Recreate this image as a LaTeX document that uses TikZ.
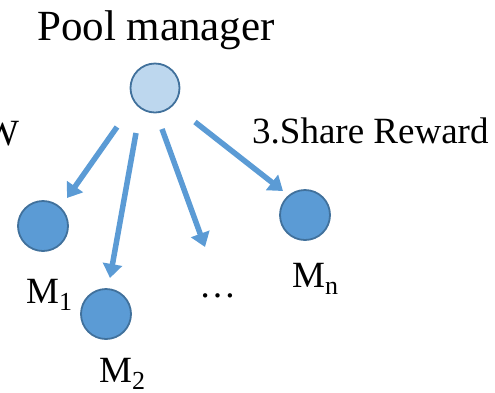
\documentclass[tikz,border=0pt]{standalone}
\usepackage{fontspec}
\setmainfont{Liberation Serif}
\usetikzlibrary{arrows.meta}

\definecolor{poolfill}{HTML}{BDD7EE}
\definecolor{minerfill}{HTML}{5B9BD5}
\definecolor{ringcol}{HTML}{41719C}
\definecolor{flowcol}{HTML}{5B9BD5}

% miner index, set low and fairly large
\newcommand{\minerix}[1]{\raisebox{-7pt}{\fontsize{26}{30}\selectfont #1}}

\tikzset{
  disc/.style={draw=ringcol, line width=1.8pt, circle, inner sep=0pt},
  pool/.style={disc, fill=poolfill},
  miner/.style={disc, fill=minerfill},
  flow/.style={draw=flowcol, line width=5.5pt,
    -{Triangle[width=19pt,length=14pt]}},
  lbl/.style={anchor=base west, inner sep=0pt, font=\fontsize{37}{44}\selectfont},
}

\begin{document}
\begin{tikzpicture}[x=1pt, y=-1pt]
  \useasboundingbox (0,0) rectangle (495,392);
  \clip (0,0) rectangle (495,392);

  % pool manager and miners
  \node[pool, minimum size=49pt] (pm) at (155,88) {};
  \node[miner, minimum size=50pt] (m1) at (43,226) {};
  \node[miner, minimum size=50pt] (m2) at (106,314) {};
  \node[miner, minimum size=50pt] (mn) at (305,215) {};

  % labels
  \node[lbl, font=\fontsize{43}{50}\selectfont] (title) at (37,40) {Pool manager};
  \node[lbl] (share) at (252,143) {3.Share Reward};
  \node[lbl] (lw) at (-16,145) {W};
  \node[lbl] (l1) at (26,303) {M\minerix{1}};
  \node[lbl] (l2) at (99,382) {M\minerix{2}};
  \node[lbl] (ln) at (292,287) {M\minerix{n}};
  \node[lbl] (dots) at (199,297) {\dots};

  % reward flows
  \coordinate (a1s) at (117,127); \coordinate (a1e) at (67,198);
  \coordinate (a2s) at (136,133); \coordinate (a2e) at (110,278);
  \coordinate (a3s) at (162,129); \coordinate (a3e) at (205,247);
  \coordinate (a4s) at (195,122); \coordinate (a4e) at (283,191);
  \draw[flow] (a1s) -- (a1e);
  \draw[flow] (a2s) -- (a2e);
  \draw[flow] (a3s) -- (a3e);
  \draw[flow] (a4s) -- (a4e);
\end{tikzpicture}
\end{document}
